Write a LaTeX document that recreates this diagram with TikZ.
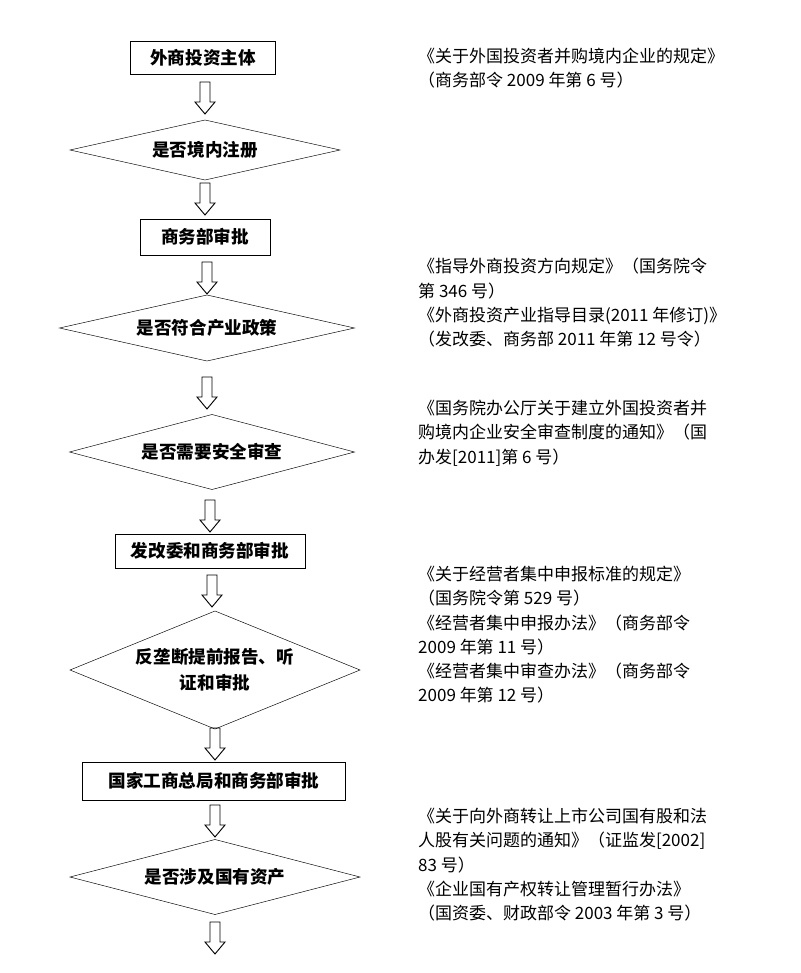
\documentclass[tikz,border=0pt]{standalone}
\usepackage{fontspec}
\setmainfont{Noto Sans CJK SC}
\newcommand{\rhombus}[4]{\draw[thin] (#1-#3/2,#2)--(#1,#2-#4/2)--(#1+#3/2,#2)--(#1,#2+#4/2)--cycle;}
\begin{document}
\begin{tikzpicture}
[
x=0.03cm, y=-0.03cm,
every node/.style={font=\fontsize{15}{22}\selectfont},
Step/.style={rectangle, draw=black, thick, inner sep=0pt, font=\fontsize{15}{22}\selectfont\bfseries},
Check/.style={inner sep=0pt, align=center, font=\fontsize{15}{22}\selectfont\bfseries},
Law/.style={anchor=north west, align=left, inner sep=0pt, font=\fontsize{14.5}{20.7}\selectfont},
Hollow/.pic={\draw[thick] (-5,0)--(-5,20)--(-10,20)--(0,32)--(10,20)--(5,20)--(5,0)--cycle;}
]
\useasboundingbox (0,0) rectangle (800,973);

\node[Step, minimum width=145*0.03cm, minimum height=33*0.03cm] (Investor) at (203,58) {外商投资主体};
\rhombus{205}{150}{270}{60}
\node[Check] (Register) at (205,150) {是否境内注册};
\node[Step, minimum width=130*0.03cm, minimum height=36*0.03cm] (Mofcom) at (205,237) {商务部审批};
\rhombus{207}{328}{295}{66}
\node[Check] (Policy) at (207,328) {是否符合产业政策};
\rhombus{212}{452}{285}{75}
\node[Check] (Security) at (212,452) {是否需要安全审查};
\node[Step, minimum width=190*0.03cm, minimum height=34*0.03cm] (Ndrc) at (210,551) {发改委和商务部审批};
\rhombus{215}{670}{290}{118}
\node[Check] (Antitrust) at (215,670) {反垄断提前报告、听\\证和审批};
\node[Step, minimum width=263*0.03cm, minimum height=38*0.03cm] (Saic) at (214,781) {国家工商总局和商务部审批};
\rhombus{215}{877}{290}{75}
\node[Check] (Stateasset) at (215,877) {是否涉及国有资产};

\pic at (205,82) {Hollow};
\pic at (205,183) {Hollow};
\pic at (207,262) {Hollow};
\pic at (207,377) {Hollow};
\pic at (210,500) {Hollow};
\pic at (212,575) {Hollow};
\pic at (215,728) {Hollow};
\pic at (215,805) {Hollow};
\pic at (215,922) {Hollow};

\node[Law] (LawA) at (418,48) {《关于外国投资者并购境内企业的规定》\\（商务部令 2009 年第 6 号）};
\node[Law] (LawB) at (418,258) {《指导外商投资方向规定》（国务院令\\第 346 号）\\《外商投资产业指导目录(2011 年修订)》\\（发改委、商务部 2011 年第 12 号令）};
\node[Law] (LawC) at (418,400) {《国务院办公厅关于建立外国投资者并\\购境内企业安全审查制度的通知》（国\\办发[2011]第 6 号）};
\node[Law] (LawD) at (418,566) {《关于经营者集中申报标准的规定》\\（国务院令第 529 号）\\《经营者集中申报办法》（商务部令\\2009 年第 11 号）\\《经营者集中审查办法》（商务部令\\2009 年第 12 号）};
\node[Law] (LawE) at (418,808) {《关于向外商转让上市公司国有股和法\\人股有关问题的通知》（证监发[2002]\\83 号）\\《企业国有产权转让管理暂行办法》\\（国资委、财政部令 2003 年第 3 号）};
\end{tikzpicture}
\end{document}
